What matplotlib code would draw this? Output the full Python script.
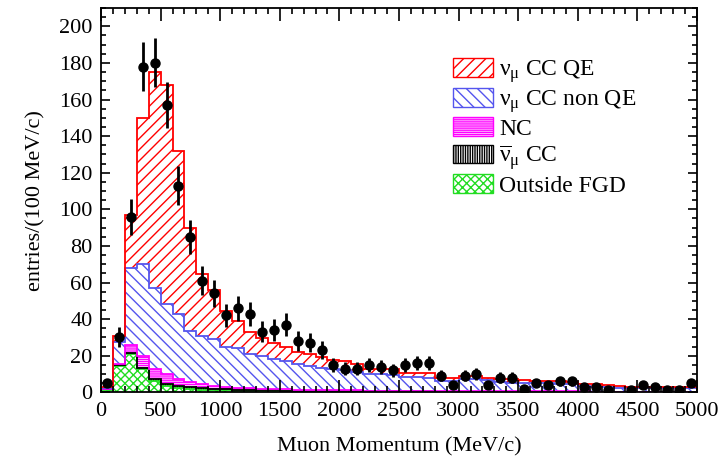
import numpy as np
import matplotlib
matplotlib.use('Agg')
import matplotlib.pyplot as plt
from matplotlib.patches import Patch
from matplotlib.ticker import MultipleLocator

plt.rcParams['font.family'] = ['Liberation Serif', 'DejaVu Serif']
plt.rcParams['mathtext.fontset'] = 'custom'
plt.rcParams['mathtext.rm'] = 'Liberation Serif'
plt.rcParams['mathtext.it'] = 'Liberation Serif:italic'
plt.rcParams['hatch.linewidth'] = 1.0

# 100 MeV/c bins from 0 to 5000 MeV/c
edges = np.arange(0, 5001, 100)

# data counts per bin
data = [5, 30, 96, 178, 180, 157, 113, 85, 61, 54,
        42, 46, 43, 33, 34, 37, 28, 27, 23, 15,
        13, 13, 15, 14, 12, 15, 16, 16, 9, 4,
        9, 10, 4, 8, 8, 2, 5, 4, 6, 6,
        3, 3, 1, 0, 1, 4, 3, 1, 1, 5]

# MC components, stacked bottom to top
outside_fgd = [1.5, 14.4, 20.8, 12.5, 6.2, 3.4, 2.5, 2.0, 1.5, 1.2,
               1.0, 0.8, 0.7, 0.6, 0.6, 0.5, 0.5, 0.4, 0.4, 0.4,
               0.3, 0.3, 0.3, 0.3, 0.3, 0.2, 0.2, 0.2, 0.2, 0.2,
               0.2, 0.2, 0.2, 0.2, 0.1, 0.1, 0.1, 0.1, 0.1, 0.1,
               0.1, 0.1, 0.1, 0.1, 0.1, 0.1, 0.1, 0.1, 0.1, 0.1]
numubar_cc = [0.2, 0.3, 0.7, 1.0, 0.8, 1.0, 1.0, 1.0, 0.8, 0.8,
              0.6, 0.6, 0.5, 0.5, 0.5, 0.4, 0.4, 0.4, 0.4, 0.3,
              0.3, 0.3, 0.3, 0.3, 0.3, 0.3, 0.3, 0.3, 0.2, 0.2,
              0.2, 0.2, 0.2, 0.2, 0.2, 0.2, 0.2, 0.2, 0.2, 0.2,
              0.2, 0.1, 0.1, 0.1, 0.1, 0.1, 0.1, 0.1, 0.1, 0.1]
nc = [0.2, 0.8, 4.5, 6.5, 6.0, 5.4, 3.5, 2.6, 2.1, 1.5,
      1.4, 1.2, 1.1, 0.9, 0.7, 0.7, 0.5, 0.5, 0.4, 0.4,
      0.4, 0.4, 0.3, 0.3, 0.3, 0.3, 0.3, 0.3, 0.3, 0.3,
      0.3, 0.3, 0.2, 0.2, 0.2, 0.2, 0.2, 0.2, 0.2, 0.2,
      0.2, 0.2, 0.2, 0.2, 0.2, 0.2, 0.2, 0.1, 0.1, 0.1]
numu_ccnonqe = [0.6, 12.0, 42.0, 50.0, 44.0, 38.2, 35.6, 27.9, 26.6, 25.5,
                21.5, 21.4, 18.7, 18.0, 16.2, 15.4, 13.9, 13.1, 12.3, 11.5,
                11.0, 10.0, 9.1, 8.9, 8.6, 7.7, 7.5, 7.2, 5.6, 5.5,
                6.3, 6.3, 6.2, 4.9, 4.7, 4.7, 4.5, 4.5, 4.3, 4.1,
                2.7, 2.6, 2.6, 2.2, 2.1, 2.1, 2.0, 2.0, 2.0, 1.9]
numu_ccqe = [0.3, 3.5, 29.0, 80.0, 118.0, 120.0, 89.4, 56.5, 33.5, 27.0,
             20.0, 15.0, 12.0, 9.5, 9.0, 8.0, 6.7, 6.6, 6.0, 4.9,
             5.0, 4.5, 3.0, 3.2, 3.0, 2.0, 2.2, 2.5, 1.7, 1.8,
             2.0, 2.0, 1.2, 2.0, 1.8, 1.3, 1.3, 1.2, 1.2, 1.2,
             1.4, 1.4, 1.2, 0.6, 0.5, 0.5, 0.6, 0.5, 0.5, 0.5]

components = [
    (outside_fgd, '#22dd22', 'xxxx', 'Outside FGD'),
    (numubar_cc, 'black', '|||||||', r'$\overline{\mathrm{\nu}}_{\mathrm{\mu}}$ CC'),
    (nc, 'magenta', '--------', 'NC'),
    (numu_ccnonqe, '#5555ee', '\\\\\\', r'$\mathrm{\nu_{\mu}}$ CC non QE'),
    (numu_ccqe, 'red', '///', r'$\mathrm{\nu_{\mu}}$ CC QE'),
]

fig = plt.figure(figsize=(7.23, 4.63), dpi=100)
ax = fig.add_axes([0.1397, 0.1527, 0.8243, 0.830])

lower = np.zeros(len(edges) - 1)
handles = []
for vals, col, hatch, label in components:
    upper = lower + np.array(vals)
    ax.stairs(upper, edges, baseline=lower, fill=True, facecolor='none',
              edgecolor=col, hatch=hatch, linewidth=0)
    handles.append(Patch(facecolor='white', edgecolor=col, hatch=hatch,
                         linewidth=1.0, label=label))
    lower = upper

# outlines of the cumulative histograms, top one last
lower = np.zeros(len(edges) - 1)
for vals, col, hatch, label in components:
    lower = lower + np.array(vals)
    ax.stairs(lower, edges, baseline=0, fill=False, color=col, linewidth=1.3)

centers = 0.5 * (edges[:-1] + edges[1:])
data = np.array(data, dtype=float)
keep = data > 0
ax.errorbar(centers[keep], data[keep], yerr=np.sqrt(data[keep]), fmt='o',
            color='black', ms=6.5, elinewidth=2, capsize=0, zorder=5)

ax.set_xlim(0, 5000)
ax.set_ylim(0, 210)
ax.xaxis.set_major_locator(MultipleLocator(500))
ax.xaxis.set_minor_locator(MultipleLocator(100))
ax.yaxis.set_major_locator(MultipleLocator(20))
ax.yaxis.set_minor_locator(MultipleLocator(5))
ax.tick_params(which='both', direction='in', top=True, right=True,
               labelsize=16, width=1.2)
ax.tick_params(axis='x', which='major', length=9, pad=7)
ax.tick_params(axis='x', which='minor', length=4.5)
ax.tick_params(axis='y', which='major', length=6.5, pad=6)
ax.tick_params(axis='y', which='minor', length=3.6)
for s in ax.spines.values():
    s.set_linewidth(1.3)

ax.set_xlabel('Muon Momentum (MeV/c)', fontsize=16, labelpad=12)
ax.set_ylabel('entries/(100 MeV/c)', fontsize=16, labelpad=10)

ax.legend(handles=handles[::-1], loc='upper left',
          bbox_to_anchor=(453 / 723, 1 - 58 / 463), bbox_transform=fig.transFigure,
          frameon=False, fontsize=17, handlelength=1.7, handleheight=0.85,
          handletextpad=0.25, labelspacing=0.12, borderpad=0, borderaxespad=0)

fig.savefig('out.png', dpi=100)
